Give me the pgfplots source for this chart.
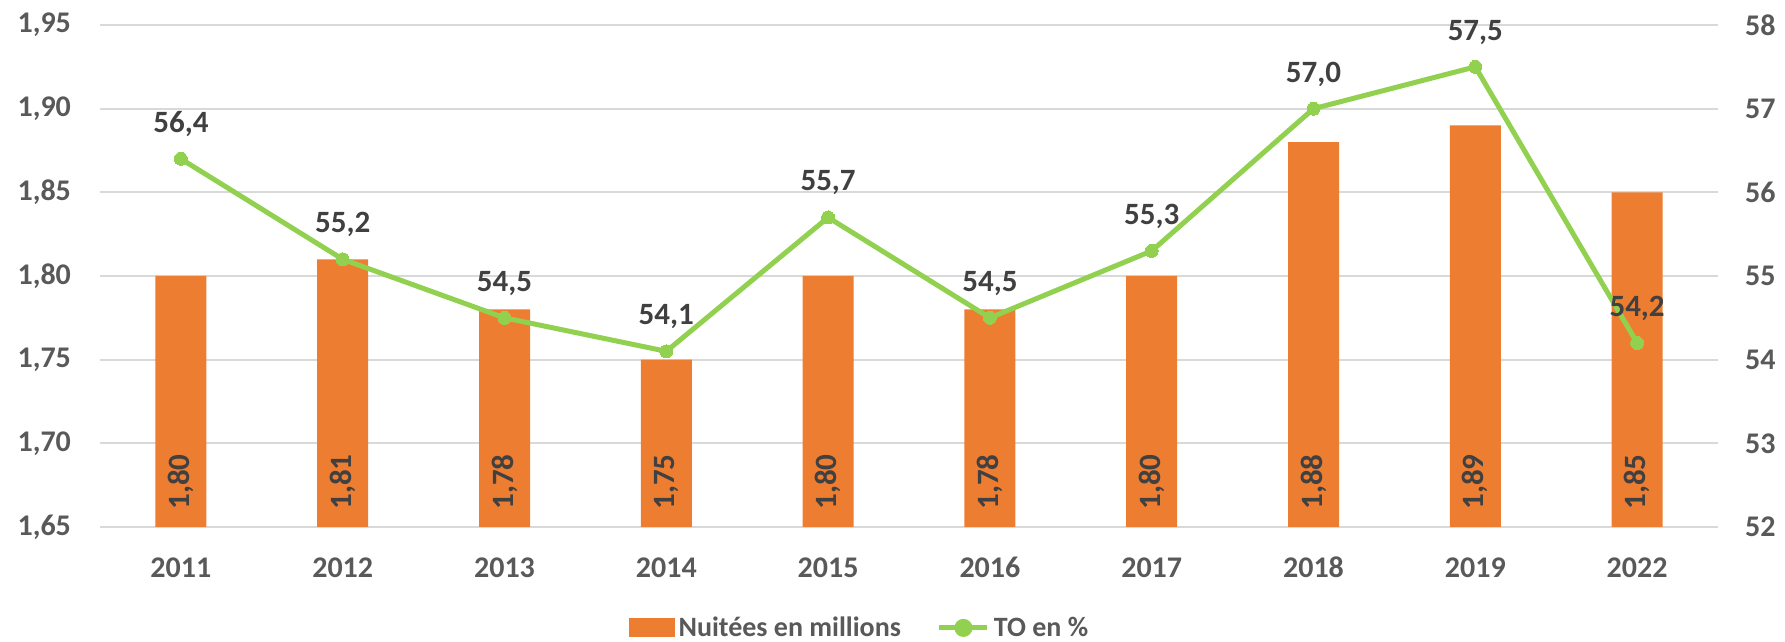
\documentclass[border=0pt]{standalone}
\usepackage{fontspec}
\setmainfont{Carlito}
\usepackage{pgfplots}
\pgfplotsset{compat=1.18}
\definecolor{barorange}{HTML}{ED7D31}
\definecolor{linegreen}{HTML}{92D050}
\definecolor{tickgray}{HTML}{595959}
\definecolor{labgray}{HTML}{404040}
\definecolor{gridgray}{HTML}{D9D9D9}
\begin{document}
\begin{tikzpicture}
\useasboundingbox (-50pt,-57.5pt) rectangle (842.5pt,263.5pt);
\pgfplotsset{common/.style={
  scale only axis, width=809pt, height=251pt,
  at={(0pt,0pt)}, anchor=south west,
  xmin=-0.5, xmax=9.5, xtick={0,1,2,3,4,5,6,7,8,9},
  axis line style={draw=none}, major tick length=0pt,
  font=\bfseries\fontsize{15}{18}\selectfont,
  /pgf/number format/assume math mode=true,
  clip=false}}
\begin{axis}[common,
  ymin=1.65, ymax=1.95,
  ytick={1.65,1.70,1.75,1.80,1.85,1.90,1.95},
  ymajorgrids, grid style={gridgray, line width=1pt},
  xticklabels={2011,2012,2013,2014,2015,2016,2017,2018,2019,2022},
  xticklabel style={text=tickgray, anchor=base, yshift=-25.5pt},
  yticklabel style={text=tickgray, xshift=-11pt,
    /pgf/number format/.cd, fixed, fixed zerofill, precision=2, use comma}]
\addplot[ybar, bar width=25.5pt, fill=barorange, draw=none] table {
x y
0 1.80
1 1.81
2 1.78
3 1.75
4 1.80
5 1.78
6 1.80
7 1.88
8 1.89
9 1.85
};
\addplot[draw=none, mark=none, point meta=explicit,
  nodes near coords={\pgfmathprintnumber[fixed,fixed zerofill,precision=2,use comma]{\pgfplotspointmeta}},
  every node near coord/.append style={text=labgray, rotate=90, anchor=west, inner xsep=8.5pt, inner ysep=0pt,
    font=\bfseries\fontsize{15.5}{18}\selectfont}]
  table[meta=v] {
x y v
0 1.65 1.80
1 1.65 1.81
2 1.65 1.78
3 1.65 1.75
4 1.65 1.80
5 1.65 1.78
6 1.65 1.80
7 1.65 1.88
8 1.65 1.89
9 1.65 1.85
};
\end{axis}
\begin{axis}[common,
  ymin=52, ymax=58, ytick={52,53,54,55,56,57,58},
  yticklabel pos=right, xticklabels={},
  yticklabel style={text=tickgray, xshift=10pt},
  legend style={at={(0.470,-0.201)}, anchor=center, draw=none, fill=none,
    legend columns=2, text=tickgray, font=\bfseries\fontsize{14}{17}\selectfont,
    /tikz/every even column/.append style={column sep=16pt},
    nodes={inner sep=2pt}},
  legend cell align=left]
\addlegendimage{legend image code/.code={\fill[barorange] (0pt,-4.5pt) rectangle (22.5pt,4.5pt);}}
\addlegendentry{Nuitées en millions}
\addplot[linegreen, line width=2.5pt, mark=*, mark size=3.25pt,
  mark options={fill=linegreen, draw=linegreen, line width=0pt},
  point meta=y,
  nodes near coords={\pgfmathprintnumber[fixed,fixed zerofill,precision=1,use comma]{\pgfplotspointmeta}},
  every node near coord/.append style={text=labgray, anchor=base, yshift=13.3pt, inner sep=0pt,
    font=\bfseries\fontsize{15.5}{18}\selectfont},
  legend image code/.code={\draw[linegreen, line width=2.5pt] (0pt,0pt) -- (24pt,0pt); \fill[linegreen] (12pt,0pt) circle (3.25pt);}]
  coordinates {(0,56.4) (1,55.2) (2,54.5) (3,54.1) (4,55.7) (5,54.5) (6,55.3) (7,57.0) (8,57.5) (9,54.2)};
\addlegendentry{TO en \%}
\end{axis}
\end{tikzpicture}
\end{document}
